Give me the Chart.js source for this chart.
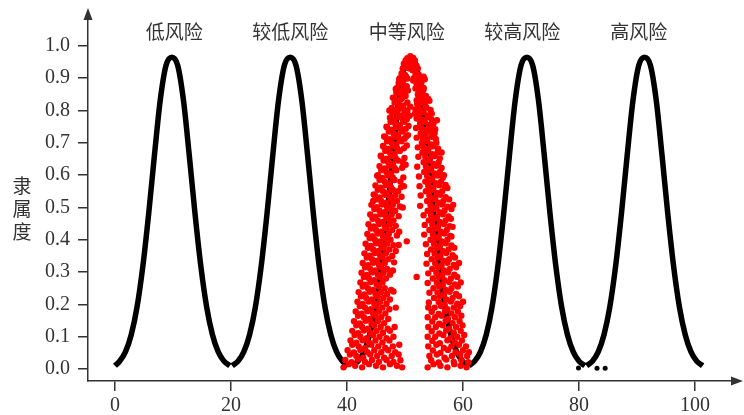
<!DOCTYPE html>
<html>
<head>
<meta charset="utf-8">
<script src="https://cdn.jsdelivr.net/npm/chart.js@4.4.0/dist/chart.umd.min.js"></script>
<style>
  html, body { margin: 0; padding: 0; background: #fff; }
  #wrap { width: 744px; height: 415px; }
</style>
</head>
<body>
<div id="wrap"><canvas id="cloudChart" width="744" height="415"></canvas></div>
<script>
// ---- data ----
var riskLabels = ['低风险', '较低风险', '中等风险', '较高风险', '高风险'];
var riskLabelX = [10.2, 30.2, 50.3, 70.2, 90.3];
var riskLabelY = 1.045;

var xTicks = [0, 20, 40, 60, 80, 100];
var yTicks = [0, 0.1, 0.2, 0.3, 0.4, 0.5, 0.6, 0.7, 0.8, 0.9, 1.0];

// membership along each standard cloud (same shape for all five)
var blackY = [0.01, 0.024, 0.053, 0.106, 0.192, 0.318, 0.48, 0.662, 0.832, 0.94, 0.965,
              0.94, 0.832, 0.662, 0.48, 0.318, 0.192, 0.106, 0.053, 0.024, 0.01];

var lowX     = [0.0, 0.8, 1.8, 2.8, 3.8, 4.8, 5.8, 6.8, 7.8, 8.8, 9.8, 10.8, 11.8, 12.8, 13.8, 14.8, 15.8, 16.8, 17.8, 18.8, 19.8];
var lowerX   = [20.2, 21.2, 22.2, 23.2, 24.2, 25.2, 26.2, 27.2, 28.2, 29.2, 30.2, 31.2, 32.2, 33.2, 34.2, 35.2, 36.2, 37.2, 38.2, 39.2, 40.2];
var middleX  = [40.9, 41.9, 42.9, 43.9, 44.9, 45.9, 46.9, 47.9, 48.9, 49.9, 50.9, 51.9, 52.9, 53.9, 54.9, 55.9, 56.9, 57.9, 58.9, 59.9, 60.9];
var higherX  = [61.0, 62.0, 63.0, 64.0, 65.0, 66.0, 67.0, 68.0, 69.0, 70.0, 71.0, 72.0, 73.0, 74.0, 75.0, 76.0, 77.0, 78.0, 79.0, 80.0, 81.0];
var highX    = [81.3, 82.3, 83.3, 84.3, 85.3, 86.3, 87.3, 88.3, 89.3, 90.3, 91.3, 92.3, 93.3, 94.3, 95.3, 96.3, 97.3, 98.3, 99.3, 100.3, 101.3];

var strayDots = [[79.9, 0.003], [83.1, 0.002], [84.5, 0.002]];

// evaluated cloud drops (red)
var evalDrops = [
  [50.4,0.962],[50.9,0.968],[51.4,0.963],[50.1,0.955],[51.7,0.955],[50.7,0.95],[51.1,0.945],
  [49.8,0.945],[50.3,0.94],[51.5,0.942],[52.0,0.938],[49.6,0.93],[52.2,0.93],[50.8,0.93],[51.3,0.925],
  [49.4,0.915],[50.0,0.91],[51.8,0.915],[52.4,0.91],[49.1,0.9],[52.6,0.9],[50.2,0.905],[51.5,0.9],
  [48.9,0.885],[49.6,0.88],[50.3,0.875],[52.0,0.88],[52.8,0.885],[53.2,0.87],[48.6,0.87],[49.3,0.895],[52.3,0.895],
  [48.5,0.855],[49.3,0.85],[50.1,0.845],[52.2,0.85],[53.0,0.855],[53.6,0.845],[47.9,0.84],[49.8,0.86],[52.6,0.865],
  [48.2,0.825],[48.9,0.82],[49.7,0.815],[50.4,0.825],[52.1,0.82],[52.9,0.825],[53.5,0.815],[54.2,0.83],[49.3,0.835],[53.2,0.84],
  [47.8,0.79],[48.6,0.795],[49.4,0.785],[50.2,0.79],[52.4,0.79],[53.2,0.795],[53.9,0.785],[54.6,0.79],[47.3,0.80],[48.9,0.805],
  [47.5,0.765],[48.3,0.76],[49.1,0.755],[49.9,0.765],[52.6,0.76],[53.4,0.765],[54.1,0.755],[54.9,0.76],[55.5,0.77],[46.8,0.75],
  [47.2,0.735],[48.0,0.73],[48.8,0.725],[49.6,0.735],[52.7,0.73],[53.5,0.725],[54.3,0.735],[55.1,0.73],[46.4,0.72],[50.2,0.72],
  [46.9,0.705],[47.7,0.70],[48.5,0.695],[49.4,0.705],[52.9,0.70],[53.8,0.705],[54.5,0.695],[55.4,0.70],[46.2,0.69],
  [46.6,0.675],[47.4,0.67],[48.2,0.665],[49.1,0.675],[53.0,0.67],[53.9,0.675],[54.7,0.665],[55.6,0.67],[56.3,0.67],[45.8,0.66],
  [46.3,0.645],[47.1,0.64],[47.9,0.635],[48.8,0.645],[49.6,0.64],[53.2,0.64],[54.1,0.645],[54.9,0.635],[55.8,0.64],
  [45.9,0.615],[46.8,0.61],[47.6,0.605],[48.5,0.615],[53.3,0.61],[54.2,0.615],[55.1,0.605],[56.0,0.61],[56.7,0.60],[45.3,0.60],
  [45.6,0.585],[46.5,0.58],[47.3,0.575],[48.2,0.585],[49.2,0.58],[53.5,0.58],[54.4,0.585],[55.3,0.575],[56.2,0.58],[57.0,0.57],
  [45.3,0.555],[46.2,0.55],[47.0,0.545],[47.9,0.555],[48.8,0.55],[53.6,0.55],[54.6,0.555],[55.5,0.545],[56.4,0.55],[57.3,0.56],[44.6,0.54],
  [44.5,0.52],[45.0,0.525],[45.9,0.52],[46.8,0.515],[47.7,0.525],[48.6,0.52],[53.8,0.52],[54.7,0.525],[55.7,0.515],[56.6,0.52],[57.6,0.525],
  [44.7,0.495],[45.6,0.49],[46.5,0.485],[47.4,0.495],[48.3,0.49],[49.6,0.50],[53.9,0.49],[54.9,0.495],[55.9,0.485],[56.8,0.49],[58.0,0.495],
  [44.4,0.465],[45.3,0.46],[46.2,0.455],[47.1,0.465],[48.0,0.46],[54.1,0.46],[55.0,0.465],[56.0,0.455],[57.0,0.46],[57.9,0.465],
  [44.1,0.435],[45.0,0.43],[45.9,0.425],[46.8,0.435],[47.8,0.43],[49.0,0.425],[54.2,0.43],[55.2,0.435],[56.2,0.425],[57.2,0.43],[58.2,0.44],
  [43.9,0.405],[44.8,0.40],[45.7,0.395],[46.6,0.405],[47.5,0.40],[54.4,0.40],[55.3,0.405],[56.3,0.395],[57.3,0.40],[58.0,0.41],
  [43.6,0.375],[44.5,0.37],[45.4,0.365],[46.3,0.375],[47.3,0.37],[48.4,0.365],[54.5,0.37],[55.5,0.375],[56.5,0.365],[57.5,0.37],[58.5,0.375],
  [43.4,0.345],[44.3,0.34],[45.2,0.335],[46.1,0.345],[47.1,0.34],[54.6,0.34],[55.6,0.345],[56.6,0.335],[57.6,0.34],[58.6,0.345],[48.1,0.33],
  [43.1,0.315],[44.0,0.31],[44.9,0.305],[45.9,0.315],[46.9,0.31],[47.9,0.305],[54.7,0.31],[55.7,0.315],[56.7,0.305],[57.7,0.31],[58.8,0.315],
  [42.9,0.285],[43.8,0.28],[44.7,0.275],[45.7,0.285],[46.7,0.28],[52.0,0.285],[54.8,0.28],[55.8,0.285],[56.8,0.275],[57.9,0.28],[59.0,0.285],
  [42.7,0.255],[43.6,0.25],[44.5,0.245],[45.5,0.255],[46.5,0.25],[47.6,0.245],[54.9,0.25],[55.9,0.255],[57.0,0.245],[58.0,0.25],[59.1,0.255],
  [42.4,0.225],[43.3,0.22],[44.3,0.215],[45.3,0.225],[46.3,0.22],[47.4,0.215],[55.0,0.22],[56.0,0.225],[57.1,0.215],[58.2,0.22],[59.3,0.225],
  [42.2,0.195],[43.1,0.19],[44.1,0.185],[45.1,0.195],[46.1,0.19],[47.3,0.185],[48.4,0.19],[54.0,0.19],[55.1,0.19],[56.2,0.195],[57.3,0.185],[58.4,0.19],[59.5,0.195],
  [41.9,0.165],[42.9,0.16],[43.9,0.155],[44.9,0.165],[45.9,0.16],[47.1,0.155],[53.9,0.16],[55.2,0.16],[56.3,0.165],[57.4,0.155],[58.6,0.16],[59.7,0.165],
  [41.6,0.135],[42.6,0.13],[43.6,0.125],[44.7,0.135],[45.8,0.13],[47.0,0.125],[48.2,0.13],[54.0,0.13],[55.3,0.13],[56.5,0.135],[57.6,0.125],[58.8,0.13],[59.9,0.135],
  [41.3,0.105],[42.3,0.10],[43.4,0.095],[44.5,0.105],[45.6,0.10],[46.8,0.095],[48.0,0.10],[53.9,0.10],[55.2,0.10],[56.6,0.105],[57.8,0.095],[59.0,0.10],[60.2,0.105],
  [40.9,0.075],[42.0,0.07],[43.1,0.065],[44.2,0.075],[45.4,0.07],[46.6,0.065],[47.9,0.07],[49.0,0.075],[54.0,0.07],[55.4,0.075],[56.7,0.065],[58.0,0.07],[59.3,0.075],[60.5,0.07],
  [40.5,0.045],[41.6,0.04],[42.8,0.035],[44.0,0.045],[45.2,0.04],[46.4,0.035],[47.7,0.04],[48.9,0.045],[54.2,0.04],[55.5,0.045],[56.8,0.035],[58.1,0.04],[59.5,0.045],[60.7,0.04],
  [39.4,0.005],[40.3,0.015],[41.4,0.01],[42.6,0.005],[43.8,0.015],[45.0,0.01],[46.2,0.005],[47.4,0.015],[48.6,0.01],[49.5,0.005],
  [53.9,0.005],[54.9,0.015],[56.1,0.01],[57.3,0.005],[58.5,0.015],[59.6,0.01],[60.6,0.005]
];

// more drops read between the rows above
var evalDropsFill = [
  [49.9,0.937],[50.5,0.932],[51.2,0.939],[51.8,0.934],
  [49.0,0.897],[49.7,0.892],[50.4,0.899],[51.4,0.893],[52.1,0.898],[52.8,0.891],[53.2,0.905],[53.4,0.897],
  [48.4,0.867],[49.1,0.861],[49.8,0.869],[50.5,0.862],[51.8,0.868],[52.5,0.86],[53.2,0.866],
  [48.1,0.838],[48.8,0.831],[49.5,0.839],[52.0,0.832],[52.7,0.838],[53.4,0.83],[54.0,0.836],
  [47.7,0.808],[48.4,0.801],[49.1,0.809],[49.9,0.80],[52.3,0.807],[53.0,0.80],[53.7,0.809],[54.4,0.802],
  [47.4,0.778],[48.1,0.771],[48.8,0.779],[49.6,0.772],[52.5,0.777],[53.2,0.77],[53.9,0.779],[54.6,0.772],
  [46.9,0.748],[47.7,0.741],[48.5,0.749],[49.3,0.742],[52.8,0.747],[53.6,0.74],[54.4,0.749],[55.2,0.742],
  [46.6,0.718],[47.4,0.711],[48.2,0.719],[49.0,0.712],[53.0,0.717],[53.8,0.71],[54.6,0.719],[55.3,0.712],
  [46.3,0.688],[47.1,0.681],[47.9,0.689],[48.7,0.682],[53.2,0.687],[54.0,0.68],[54.8,0.689],[55.7,0.682],
  [45.9,0.658],[46.8,0.651],[47.6,0.659],[48.4,0.652],[53.5,0.657],[54.3,0.65],[55.1,0.659],[56.0,0.652],
  [45.6,0.628],[46.5,0.621],[47.3,0.629],[48.2,0.622],[53.6,0.627],[54.5,0.62],[55.4,0.629],[56.3,0.622],
  [45.2,0.598],[46.1,0.591],[47.0,0.599],[47.9,0.592],[53.8,0.597],[54.7,0.59],[55.6,0.599],[56.5,0.592],
  [44.9,0.568],[45.8,0.561],[46.7,0.569],[47.6,0.562],[49.8,0.566],[54.0,0.567],[54.9,0.56],[55.9,0.569],[56.9,0.562],
  [44.8,0.538],[45.6,0.531],[46.5,0.539],[47.4,0.532],[48.3,0.538],[54.2,0.537],[55.2,0.53],[56.1,0.539],[57.0,0.532],
  [44.2,0.508],[45.1,0.501],[46.0,0.509],[46.9,0.502],[47.9,0.508],[54.4,0.507],[55.4,0.50],[56.4,0.509],[57.3,0.502],[58.3,0.508],
  [44.0,0.478],[44.9,0.471],[45.8,0.479],[46.7,0.472],[47.7,0.478],[54.5,0.477],[55.5,0.47],[56.5,0.479],[57.5,0.472],
  [43.7,0.448],[44.6,0.441],[45.5,0.449],[46.5,0.442],[47.4,0.448],[54.7,0.447],[55.7,0.44],[56.7,0.449],[57.7,0.442],
  [43.5,0.418],[44.4,0.411],[45.3,0.419],[46.2,0.412],[47.2,0.418],[54.8,0.417],[55.8,0.41],[56.8,0.419],[57.8,0.412],
  [43.2,0.388],[44.1,0.381],[45.0,0.389],[45.9,0.382],[46.9,0.388],[48.9,0.384],[55.0,0.387],[56.0,0.38],[57.0,0.389],[58.0,0.382],
  [43.0,0.358],[43.9,0.351],[44.8,0.359],[45.7,0.352],[46.7,0.358],[55.1,0.357],[56.1,0.35],[57.1,0.359],[58.2,0.352],
  [42.7,0.328],[43.6,0.321],[44.5,0.329],[45.5,0.322],[46.5,0.328],[55.2,0.327],[56.3,0.32],[57.3,0.329],[58.4,0.322],[59.3,0.328],
  [42.5,0.298],[43.4,0.291],[44.3,0.299],[45.3,0.292],[46.3,0.298],[47.4,0.292],[55.4,0.297],[56.4,0.29],[57.4,0.299],[58.5,0.292],
  [42.3,0.268],[43.2,0.261],[44.1,0.269],[45.1,0.262],[46.1,0.268],[55.5,0.267],[56.5,0.26],[57.6,0.269],[58.6,0.262],[59.6,0.268],
  [42.0,0.238],[43.0,0.231],[43.9,0.239],[44.9,0.232],[45.9,0.238],[46.9,0.232],[55.6,0.237],[56.7,0.23],[57.7,0.239],[58.8,0.232],
  [41.8,0.208],[42.7,0.201],[43.7,0.209],[44.7,0.202],[45.7,0.208],[46.8,0.202],[55.8,0.207],[56.8,0.20],[57.9,0.209],[59.0,0.202],[60.0,0.208],
  [41.5,0.178],[42.5,0.171],[43.5,0.179],[44.5,0.172],[45.5,0.178],[46.6,0.172],[54.6,0.177],[55.8,0.17],[56.9,0.179],[58.0,0.172],[59.1,0.178],
  [41.2,0.148],[42.2,0.141],[43.2,0.149],[44.2,0.142],[45.3,0.148],[46.4,0.142],[54.7,0.147],[55.9,0.14],[57.0,0.149],[58.2,0.142],[59.4,0.148],
  [40.9,0.118],[41.9,0.111],[42.9,0.119],[44.0,0.112],[45.1,0.118],[46.2,0.112],[47.4,0.118],[54.6,0.117],[55.9,0.11],[57.1,0.119],[58.4,0.112],[59.6,0.118],
  [40.6,0.088],[41.6,0.081],[42.7,0.089],[43.8,0.082],[44.9,0.088],[46.1,0.082],[47.3,0.088],[54.7,0.087],[56.0,0.08],[57.3,0.089],[58.6,0.082],[59.8,0.088],
  [40.1,0.058],[41.2,0.051],[42.3,0.059],[43.5,0.052],[44.7,0.058],[45.9,0.052],[47.1,0.058],[48.3,0.052],[54.8,0.057],[56.1,0.05],[57.4,0.059],[58.7,0.052],[60.0,0.058],[61.0,0.052],
  [39.7,0.028],[40.8,0.021],[41.9,0.029],[43.1,0.022],[44.3,0.028],[45.5,0.022],[46.8,0.028],[48.0,0.022],[49.2,0.027],
  [54.5,0.027],[55.8,0.02],[57.1,0.029],[58.4,0.022],[59.7,0.028],[60.9,0.021]
];

// drops sitting on the inner edges of the two arms
var evalDropsEdge = [
  [50.4,0.80],[50.9,0.812],[51.8,0.803],[50.3,0.773],[50.8,0.784],[52.0,0.775],[51.7,0.79],
  [50.1,0.743],[50.6,0.752],[51.9,0.746],[49.9,0.713],[50.5,0.724],[52.0,0.716],
  [49.8,0.683],[50.3,0.692],[52.2,0.686],[49.9,0.653],[52.3,0.657],[49.5,0.623],[50.1,0.632],[52.1,0.626],
  [49.7,0.593],[52.4,0.596],[49.3,0.563],[52.5,0.566],[49.4,0.533],[52.7,0.537],[49.1,0.503],[52.6,0.505],
  [48.9,0.473],[53.2,0.476],[48.4,0.443],[53.4,0.446],[48.6,0.413],[53.3,0.416],[50.3,0.395],[48.0,0.383],[53.6,0.386],
  [53.8,0.356],[47.8,0.35],[53.7,0.326],[54.0,0.296],[47.5,0.30],[53.9,0.266],[54.2,0.236],[48.0,0.24],[54.1,0.206]
];

// ---- helpers ----
function toPoints(xs) {
    return xs.map(function (x, i) { return { x: x, y: blackY[i] }; });
}
function pairsToPoints(list) {
    return list.map(function (p) { return { x: p[0], y: p[1] }; });
}

var axisColor = '#333';
var serifFont = "'Liberation Serif', 'DejaVu Serif', serif";
var cjkFont = "'Noto Sans CJK SC', 'Noto Sans', sans-serif";

function blackCurve(xs) {
    return {
        data: toPoints(xs),
        showLine: true,
        borderColor: '#000',
        borderWidth: 5.5,
        pointRadius: 0,
        cubicInterpolationMode: 'monotone',
        order: 2
    };
}

function redDrops(list) {
    return {
        data: pairsToPoints(list),
        backgroundColor: '#ff0000',
        borderWidth: 0,
        pointRadius: 3.2,
        order: 0
    };
}

// labels, stacked y title and arrow heads
var decorPlugin = {
    id: 'decor',
    afterDraw(chart) {
        var ctx = chart.ctx;
        var xs = chart.scales.x, ys = chart.scales.y;
        var area = chart.chartArea;
        ctx.save();

        ctx.fillStyle = '#333';
        ctx.font = '19px ' + cjkFont;
        ctx.textAlign = 'center';
        ctx.textBaseline = 'middle';
        riskLabels.forEach(function (t, i) {
            ctx.fillText(t, xs.getPixelForValue(riskLabelX[i]), ys.getPixelForValue(riskLabelY));
        });

        var title = '隶属度';
        for (var i = 0; i < title.length; i++) {
            ctx.fillText(title[i], 22, 186 + i * 23);
        }

        // arrows
        ctx.fillStyle = axisColor;
        ctx.beginPath();
        ctx.moveTo(area.left, 8);
        ctx.lineTo(area.left - 4.5, 20);
        ctx.lineTo(area.left + 4.5, 20);
        ctx.closePath();
        ctx.fill();
        ctx.beginPath();
        ctx.moveTo(743, area.bottom);
        ctx.lineTo(731, area.bottom - 4.5);
        ctx.lineTo(731, area.bottom + 4.5);
        ctx.closePath();
        ctx.fill();
        ctx.restore();
    }
};

var ctx = document.getElementById('cloudChart').getContext('2d');
var cloudChart = new Chart(ctx, {
    type: 'scatter',
    data: {
        datasets: [
            redDrops(evalDrops),
            redDrops(evalDropsFill),
            redDrops(evalDropsEdge),
            blackCurve(lowX),
            blackCurve(lowerX),
            blackCurve(middleX),
            blackCurve(higherX),
            blackCurve(highX),
            {
                data: pairsToPoints(strayDots),
                backgroundColor: '#000',
                borderWidth: 0,
                pointRadius: 2.5,
                order: 1
            }
        ]
    },
    options: {
        responsive: false,
        animation: false,
        devicePixelRatio: 1,
        layout: { padding: { top: 12, right: 6, left: 0, bottom: 0 } },
        plugins: {
            legend: { display: false },
            tooltip: { enabled: false }
        },
        scales: {
            x: {
                type: 'linear',
                min: -4.655,
                max: 107.4,
                afterBuildTicks: function (scale) {
                    scale.ticks = xTicks.map(function (v) { return { value: v }; });
                },
                afterFit: function (scale) {
                    scale.height = 34;
                    scale.paddingLeft = 0;
                    scale.paddingRight = 0;
                },
                grid: { display: true, drawOnChartArea: false, drawTicks: true, tickLength: 10, color: axisColor, lineWidth: 1.5 },
                border: { display: true, color: axisColor, width: 1.5 },
                ticks: {
                    padding: 3,
                    color: '#333',
                    font: { family: serifFont, size: 20 },
                    callback: function (v) { return String(v); }
                }
            },
            y: {
                type: 'linear',
                min: -0.0372,
                max: 1.105,
                afterBuildTicks: function (scale) {
                    scale.ticks = yTicks.map(function (v) { return { value: v }; });
                },
                afterFit: function (scale) {
                    scale.width = 88;
                    scale.paddingTop = 0;
                    scale.paddingBottom = 0;
                },
                grid: { display: true, drawOnChartArea: false, drawTicks: true, tickLength: 10, color: axisColor, lineWidth: 1.5 },
                border: { display: true, color: axisColor, width: 1.5 },
                ticks: {
                    padding: 8,
                    color: '#333',
                    font: { family: serifFont, size: 20 },
                    callback: function (v) { return v.toFixed(1); }
                }
            }
        }
    },
    plugins: [decorPlugin]
});
</script>
</body>
</html>
